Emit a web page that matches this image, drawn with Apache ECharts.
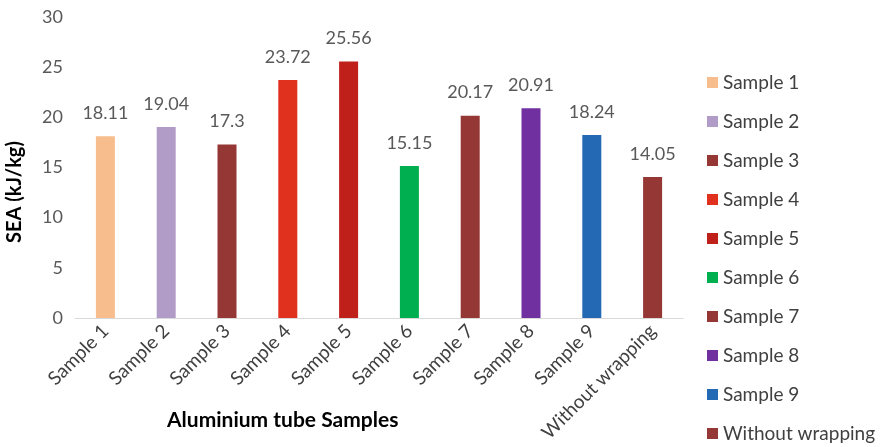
<!DOCTYPE html>
<html>
<head>
<meta charset="utf-8">
<script src="https://cdn.jsdelivr.net/npm/echarts@6/dist/echarts.min.js"></script>
<style>
  html, body { margin: 0; padding: 0; background: #fff; }
  #chart { width: 880px; height: 447px; }
</style>
</head>
<body>
<div id="chart"></div>
<script>
// Specific energy absorption of each aluminium tube sample
const categories = ['Sample 1', 'Sample 2', 'Sample 3', 'Sample 4', 'Sample 5',
  'Sample 6', 'Sample 7', 'Sample 8', 'Sample 9', 'Without wrapping'];
const seaValues = [18.11, 19.04, 17.3, 23.72, 25.56, 15.15, 20.17, 20.91, 18.24, 14.05];
const barColors = ['#F7BD8C', '#B19CC8', '#953735', '#E0301E', '#C0201A',
  '#00B050', '#953735', '#7030A0', '#2469B3', '#953735'];
const yTicks = { min: 0, max: 30, step: 5 };

const FONT = 'Lato, "Open Sans", sans-serif';

// one series per sample so each gets its own legend entry; stacked so they share a slot
const series = categories.map((name, i) => ({
  name: name,
  type: 'bar',
  stack: 'samples',
  barWidth: 19,
  itemStyle: { color: barColors[i] },
  label: {
    show: true,
    position: 'top',
    distance: 14,
    fontFamily: FONT,
    fontSize: 18,
    color: '#595959'
  },
  data: categories.map((c, j) => (j === i ? seaValues[i] : '-'))
}));

const chart = echarts.init(document.getElementById('chart'));
chart.setOption({
  animation: false,
  backgroundColor: '#ffffff',
  textStyle: { fontFamily: FONT },
  grid: { left: 75, right: 197, top: 17, bottom: 129, containLabel: false },
  title: {
    text: 'Aluminium tube Samples',
    left: 162,
    top: 405,
    textStyle: { fontFamily: FONT, fontSize: 21, fontWeight: 'bold', color: '#000' }
  },
  // vertical axis title, placed a little below the plot's middle
  graphic: [{
    type: 'text',
    x: 15,
    y: 192,
    rotation: Math.PI / 2,
    style: {
      text: 'SEA (kJ/kg)',
      fontFamily: FONT,
      fontSize: 20,
      fontWeight: 'bold',
      fill: '#000',
      align: 'center',
      verticalAlign: 'middle'
    }
  }],
  legend: {
    orient: 'vertical',
    left: 702,
    top: 68,
    height: 380,
    itemWidth: 11,
    itemHeight: 11,
    itemGap: 20,
    icon: 'rect',
    textStyle: { fontFamily: FONT, fontSize: 19, color: '#404040' },
    data: categories
  },
  xAxis: {
    type: 'category',
    data: categories,
    axisLine: { lineStyle: { color: '#D9D9D9', width: 1 } },
    axisTick: { show: false },
    axisLabel: {
      rotate: 45,
      interval: 0,
      margin: 10,
      fontFamily: FONT,
      fontSize: 19,
      color: '#404040'
    }
  },
  yAxis: {
    type: 'value',
    min: yTicks.min,
    max: yTicks.max,
    interval: yTicks.step,
    splitLine: { show: false },
    axisLine: { show: false },
    axisTick: { show: false },
    axisLabel: { margin: 12, fontFamily: FONT, fontSize: 18, color: '#595959' }
  },
  series: series
});
</script>
</body>
</html>
